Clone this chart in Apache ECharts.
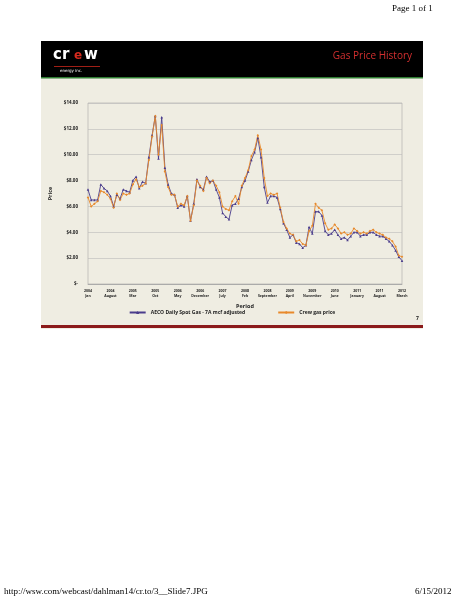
<!DOCTYPE html>
<html><head><meta charset="utf-8">
<script src="https://cdn.jsdelivr.net/npm/echarts@6/dist/echarts.min.js"></script>
<style>html,body{margin:0;padding:0;background:#fff}#c{width:464px;height:600px}</style>
</head><body><div id="c"></div>
<script>
const tickLabels = ['2004\nJan','2004\nAugust','2005\nMar','2005\nOct','2006\nMay','2006\nDecember','2007\nJuly','2008\nFeb','2008\nSeptember','2009\nApril','2009\nNovember','2010\nJune','2011\nJanuary','2011\nAugust','2012\nMarch'];
const aeco = [7.3,6.5,6.5,6.5,7.7,7.4,7.2,6.8,6.0,6.9,6.6,7.3,7.2,7.1,8.0,8.3,7.4,7.9,7.8,9.8,11.5,13.0,9.7,12.9,9.0,7.7,7.0,6.9,5.9,6.1,6.0,6.8,4.9,6.2,8.1,7.5,7.3,8.3,7.9,8.0,7.3,6.7,5.5,5.2,5.0,6.1,6.2,6.6,7.5,8.0,8.7,9.6,10.2,11.3,9.8,7.5,6.3,6.8,6.8,6.7,5.8,4.7,4.2,3.6,3.8,3.2,3.1,2.8,3.0,4.4,3.9,5.6,5.6,5.3,4.1,3.8,3.9,4.2,3.8,3.5,3.6,3.4,3.7,4.0,4.0,3.7,3.8,3.8,4.0,4.0,3.8,3.7,3.7,3.5,3.3,3.0,2.6,2.1,1.8];
const crew = [6.7,6.0,6.2,6.4,7.2,7.1,6.9,6.6,5.9,7.0,6.5,7.0,6.9,7.0,7.7,8.1,7.5,7.6,7.8,9.6,11.4,13.0,10.0,12.3,8.7,7.5,6.9,6.9,6.0,6.2,6.1,6.8,4.9,6.1,8.0,7.6,7.2,8.2,7.8,8.0,7.6,7.1,6.0,5.8,5.7,6.4,6.8,6.2,7.6,8.2,8.8,9.9,10.4,11.5,10.4,8.2,6.8,7.0,6.9,7.0,5.9,4.8,4.3,3.9,3.8,3.3,3.4,3.1,3.0,4.1,4.5,6.2,5.9,5.7,4.7,4.2,4.3,4.6,4.3,3.9,4.0,3.8,3.9,4.3,4.1,3.9,4.0,3.9,4.1,4.2,4.0,3.9,3.8,3.6,3.5,3.3,2.9,2.2,2.1];
const categories = aeco.map((_, i) => i);
const legendNames = ['AECO Daily Spot Gas - 7A mcf adjusted','Crew gas price'];
const chart = echarts.init(document.getElementById('c'));
chart.setOption({
  animation:false,
  graphic:[
    {type:'text',left:392,top:4,style:{text:'Page 1 of 1',font:'9px "Liberation Serif"',fill:'#000'}},
    {type:'rect',shape:{x:41,y:41,width:382,height:288},style:{fill:'#efede2'},z:-10},
    {type:'rect',shape:{x:41,y:41,width:382,height:37},style:{fill:'#000'},z:-9},
    {type:'rect',shape:{x:41,y:77,width:382,height:1.5},style:{fill:'#2f7d32'},z:-9},
    {type:'rect',shape:{x:41,y:325,width:382,height:3},style:{fill:'#8b1a1a'},z:-9},
    {type:'text',left:53,top:48,style:{text:'cr',font:'bold 15px "DejaVu Sans"',fill:'#fff'}},
    {type:'text',left:74,top:50,style:{text:'e',font:'bold 12px "DejaVu Sans"',fill:'#d62a1e'}},
    {type:'text',left:84,top:48,style:{text:'w',font:'bold 15px "DejaVu Sans"',fill:'#fff'}},
    {type:'rect',shape:{x:54,y:66,width:46,height:0.8},style:{fill:'#d62a1e'}},
    {type:'text',left:60,top:69,style:{text:'energy inc.',font:'4px "DejaVu Sans"',fill:'#fff'}},
    {type:'text',right:52,top:51,style:{text:'Gas Price History',font:'10px "Open Sans"',fill:'#d32f2f'}},
    {type:'text',left:416,top:316,style:{text:'7',font:'bold 5px "Open Sans"',fill:'#222'}},
    {type:'text',left:4,top:587,style:{text:'http://wsw.com/webcast/dahlman14/cr.to/3__Slide7.JPG',font:'9px "Liberation Serif"',fill:'#000'}},
    {type:'text',left:415,top:587,style:{text:'6/15/2012',font:'9px "Liberation Serif"',fill:'#000'}}
  ],
  grid:{left:88,right:62,top:103,bottom:316,show:true,borderColor:'#aaa',borderWidth:0.6,backgroundColor:'transparent'},
  legend:{bottom:280,left:'center',itemWidth:16,itemHeight:4,itemGap:32,
    textStyle:{fontSize:5,fontWeight:'bold',fontFamily:'Open Sans',color:'#222'},data:legendNames},
  xAxis:{type:'category',data:categories,boundaryGap:false,name:'Period',nameLocation:'middle',nameGap:19,
    nameTextStyle:{fontSize:5.5,fontWeight:'bold',fontFamily:'Open Sans',color:'#222'},
    axisLine:{lineStyle:{color:'#999',width:0.6}},axisTick:{show:false},
    axisLabel:{interval:0,fontSize:3.5,fontWeight:'bold',fontFamily:'Open Sans',color:'#222',lineHeight:5,margin:4,
      formatter:(v,i)=> i%7===0 ? tickLabels[i/7] : ''}},
  yAxis:{type:'value',min:0,max:14,interval:2,name:'Price',nameLocation:'middle',nameGap:26,
    nameTextStyle:{fontSize:5.5,fontWeight:'bold',fontFamily:'Open Sans',color:'#222'},
    axisLine:{show:false},axisTick:{show:false},
    splitLine:{lineStyle:{color:'#bbb',width:0.6}},
    axisLabel:{fontSize:4.5,fontWeight:'bold',fontFamily:'Open Sans',color:'#222',margin:10,
      formatter:v=> v===0 ? '$-' : '$'+v.toFixed(2)}},
  series:[
    {name:legendNames[0],type:'line',data:aeco,symbol:'triangle',symbolSize:2.5,
      lineStyle:{color:'#4a3c8c',width:0.9},itemStyle:{color:'#4a3c8c'}},
    {name:legendNames[1],type:'line',data:crew,symbol:'diamond',symbolSize:2.5,
      lineStyle:{color:'#e8892a',width:0.9},itemStyle:{color:'#e8892a'}}
  ]
});
</script></body></html>
